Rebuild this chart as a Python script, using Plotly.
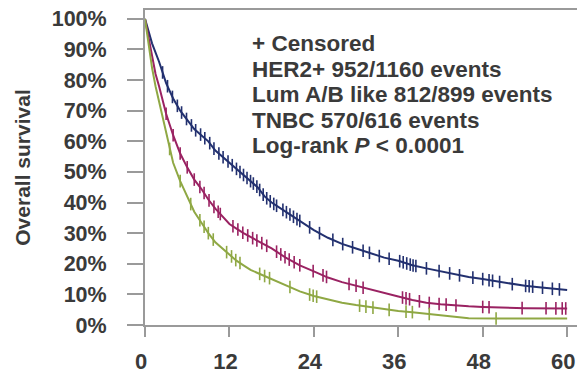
import numpy as np
import plotly.graph_objects as go

# ---- data (months, overall survival fraction) ----
her2_t = [0, 0.5, 1, 2, 3, 4, 5, 6, 7, 8, 9, 10, 11, 12, 13, 14, 15, 16, 17, 18, 19, 20,
          22, 24, 26, 28, 30, 32, 34, 36, 38, 40, 42, 44, 46, 48, 50, 52, 54, 56, 58, 60]
her2_s = [1.00, 0.96, 0.92, 0.86, 0.79, 0.74, 0.70, 0.67, 0.64, 0.62, 0.60, 0.57, 0.55, 0.53,
          0.51, 0.49, 0.47, 0.45, 0.42, 0.40, 0.385, 0.37, 0.34, 0.31, 0.285, 0.265, 0.25,
          0.235, 0.22, 0.21, 0.195, 0.185, 0.175, 0.165, 0.157, 0.15, 0.142, 0.134, 0.128,
          0.123, 0.118, 0.114]

lum_t = [0, 0.5, 1, 1.5, 2, 3, 4, 5, 6, 7, 8, 9, 10, 11, 12, 13, 14, 16, 18, 20, 22, 24, 26,
         28, 30, 32, 34, 36, 38, 40, 42, 44, 46, 48, 50, 54, 60]
lum_s = [1.00, 0.94, 0.88, 0.82, 0.78, 0.69, 0.62, 0.56, 0.515, 0.475, 0.445, 0.41, 0.38,
         0.355, 0.33, 0.315, 0.30, 0.275, 0.25, 0.22, 0.195, 0.175, 0.155, 0.14, 0.128,
         0.115, 0.103, 0.093, 0.082, 0.073, 0.068, 0.064, 0.061, 0.059, 0.057, 0.055, 0.054]

tnbc_t = [0, 0.5, 1, 1.5, 2, 2.5, 3, 4, 5, 6, 7, 8, 9, 10, 11, 12, 13, 14, 15, 16, 17, 18,
          20, 22, 24, 26, 28, 30, 32, 34, 36, 38, 40, 42, 44, 46, 50, 60]
tnbc_s = [1.00, 0.92, 0.84, 0.78, 0.73, 0.67, 0.62, 0.53, 0.47, 0.42, 0.37, 0.335, 0.30,
          0.27, 0.25, 0.23, 0.21, 0.195, 0.18, 0.17, 0.16, 0.15, 0.13, 0.11, 0.095, 0.083,
          0.073, 0.065, 0.058, 0.051, 0.046, 0.042, 0.037, 0.032, 0.026, 0.022, 0.021, 0.021]

her2_cens = [2.5, 3.2, 3.9, 4.6, 5.2, 5.9, 6.6, 7.2, 7.9, 8.5, 9.2, 9.8, 10.5, 11.1, 11.8,
             12.4, 13.0, 13.5, 14.0, 14.5, 15.0, 15.4, 15.9, 16.3, 16.8, 17.3, 17.8, 18.3,
             18.7, 19.6, 20.1, 20.6, 21.1, 21.6, 22.0, 23.4, 24.8, 26.7, 28.1, 29.5, 31.0,
             31.9, 33.3, 34.7, 36.2, 36.7, 37.2, 37.7, 38.1, 38.5, 40.0, 41.8, 43.3, 44.7,
             46.6, 48.0, 48.9, 49.4, 50.4, 52.2, 54.1, 54.6, 55.1, 56.5, 57.9, 58.9]
lum_cens = [3.0, 4.0, 5.0, 6.0, 7.0, 7.8, 8.4, 9.1, 9.8, 10.4, 10.7, 12.5, 13.2, 13.9,
            14.6, 15.3, 15.9, 16.6, 17.3, 18.7, 19.3, 19.9, 20.5, 21.2, 22.0, 23.9, 25.3,
            25.8, 29.0, 30.0, 31.0, 36.6, 37.1, 37.6, 39.0, 40.4, 41.8, 42.8, 44.2, 48.0,
            48.9, 53.6, 57.0, 58.4, 59.3, 59.8]
tnbc_cens = [3.5, 5.0, 6.5, 7.8, 8.4, 9.0, 9.7, 11.6, 12.3, 12.9, 13.5, 16.3, 17.0, 17.7,
             20.6, 23.4, 23.9, 24.4, 30.5, 31.4, 32.4, 34.7, 37.1, 38.0, 40.4, 49.9]

x_ticks = [0, 12, 24, 36, 48, 60]
y_ticks = [0, 0.1, 0.2, 0.3, 0.4, 0.5, 0.6, 0.7, 0.8, 0.9, 1.0]

legend_lines = ["+ Censored",
                "HER2+ 952/1160 events",
                "Lum A/B like 812/899 events",
                "TNBC 570/616 events",
                "Log-rank <i>P</i> < 0.0001"]

series = [
    ("HER2+", her2_t, her2_s, her2_cens, "#22306f"),
    ("Lum A/B like", lum_t, lum_s, lum_cens, "#9a2262"),
    ("TNBC", tnbc_t, tnbc_s, tnbc_cens, "#8fa844"),
]

W, H = 577, 374
ML, MR, MT, MB = 145, 0, 10, 40
FONT = "Liberation Sans, Arial, sans-serif"
TXT = "#3a3a3a"

fig = go.Figure()
for name, t, s, c, col in series:
    fig.add_trace(go.Scatter(x=t, y=s, mode="lines", name=name,
                             line=dict(color=col, width=2), showlegend=False))
    cy = np.interp(c, t, s)
    fig.add_trace(go.Scatter(x=c, y=cy, mode="markers", showlegend=False,
                             marker=dict(symbol="line-ns", size=9,
                                         line=dict(color=col, width=1.6))))

ph = H - MT - MB
for i, txt in enumerate(legend_lines):
    ypix = 44.5 + 26.3 * i
    fig.add_annotation(xref="paper", yref="paper", x=(250 - ML) / (W - ML - MR),
                       y=1 - (ypix - MT) / ph, text=txt, showarrow=False,
                       xanchor="left", yanchor="middle",
                       font=dict(family=FONT, size=22.5, color=TXT, weight="bold"))

fig.update_layout(
    width=W, height=H, margin=dict(l=ML, r=MR, t=MT, b=MB),
    paper_bgcolor="white", plot_bgcolor="white",
    font=dict(family=FONT, color=TXT),
    xaxis=dict(range=[0, 61.4], tickvals=x_ticks, showgrid=False, zeroline=False,
               showline=True, linecolor="#9a9a9a", linewidth=2, mirror=True,
               ticks="outside", ticklen=10, tickwidth=2, tickcolor="#9a9a9a",
               ticklabelstandoff=6, ticklabelshift=-4, ticklabeloverflow="allow",
               tickfont=dict(family=FONT, size=22, color=TXT, weight="bold")),
    yaxis=dict(range=[0, 1.029], tickvals=y_ticks, tickformat=".0%", showgrid=False,
               zeroline=False, showline=True, linecolor="#9a9a9a", linewidth=2,
               ticks="outside", ticklen=16, tickwidth=2, tickcolor="#9a9a9a",
               ticklabelstandoff=16,
               tickfont=dict(family=FONT, size=21.5, color=TXT, weight="bold"),
               title=dict(text="Overall survival", standoff=15,
                          font=dict(family=FONT, size=21, color=TXT, weight="bold"))),
)

fig.write_html("out.html")
